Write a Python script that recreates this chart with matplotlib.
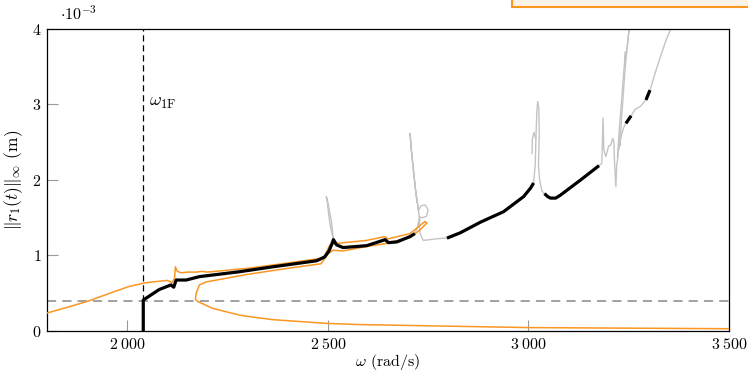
import matplotlib
matplotlib.use("Agg")
import matplotlib.pyplot as plt
from matplotlib.patches import Rectangle

plt.rcParams['font.family'] = 'serif'
plt.rcParams['font.serif'] = ['cmr10', 'DejaVu Serif']
plt.rcParams['mathtext.fontset'] = 'cm'
plt.rcParams['axes.formatter.use_mathtext'] = True

# amplitudes in 1e-3 m, omega in rad/s
# stable branch (thick black), split into pieces
black_w = [
    [2040, 2040, 2060, 2080, 2109, 2116, 2122, 2147, 2180, 2280, 2363, 2472, 2492, 2503, 2510,
     2514, 2522, 2538, 2597, 2643, 2651, 2672, 2705, 2717],
    [2797, 2830, 2880, 2938, 2988, 3005, 3013],
    [3040, 3048, 3055, 3068, 3080, 3130, 3176],
    [3243, 3256],
    [3293, 3303],
]
black_a = [
    [0.0, 0.41, 0.48, 0.55, 0.61, 0.58, 0.675, 0.675, 0.72, 0.785, 0.85, 0.93, 0.98, 1.06, 1.15,
     1.21, 1.14, 1.105, 1.13, 1.21, 1.17, 1.18, 1.25, 1.29],
    [1.23, 1.30, 1.44, 1.58, 1.78, 1.89, 1.96],
    [1.82, 1.78, 1.76, 1.76, 1.80, 2.00, 2.19],
    [2.75, 2.85],
    [3.06, 3.19],
]

# unstable branch (thin grey)
grey_w = [
    [2514, 2509, 2503, 2498, 2496, 2499, 2502, 2506, 2510, 2514],
    [2717, 2724, 2728, 2726, 2718, 2710, 2705, 2708, 2714, 2720, 2726, 2733, 2743, 2750, 2746,
     2736, 2730, 2728, 2730, 2738, 2788, 2797],
    [3013, 3017, 3019, 3021, 3023, 3026, 3027, 3026, 3025, 3028, 3034, 3040],
    [3009, 3010, 3014, 3018],
    [3176, 3183, 3186, 3188, 3193, 3200, 3205, 3210, 3213, 3215, 3218, 3220, 3222, 3226, 3230,
     3228, 3232, 3236, 3240, 3243, 3247, 3252],
    [3222, 3227, 3233, 3238, 3242, 3241, 3246, 3250, 3256],
    [3225, 3232, 3238, 3243],
    [3256, 3265, 3280, 3293],
    [3303, 3315, 3330, 3345, 3355, 3365],
]
grey_a = [
    [1.21, 1.45, 1.62, 1.76, 1.78, 1.70, 1.55, 1.40, 1.30, 1.21],
    [1.29, 1.38, 1.50, 1.60, 1.90, 2.30, 2.62, 2.40, 2.10, 1.80, 1.60, 1.66, 1.67, 1.60, 1.52,
     1.50, 1.51, 1.40, 1.29, 1.20, 1.23, 1.23],
    [1.96, 2.20, 2.60, 2.90, 3.04, 2.95, 2.60, 2.40, 2.20, 2.00, 1.85, 1.82],
    [2.35, 2.55, 2.63, 2.55],
    [2.19, 2.22, 2.82, 2.40, 2.31, 2.45, 2.46, 2.55, 2.51, 2.20, 1.91, 2.20, 2.26, 2.50, 2.62,
     2.45, 2.80, 3.10, 3.40, 3.59, 3.80, 4.05],
    [2.30, 2.70, 3.10, 3.45, 3.70, 3.55, 3.75, 3.95, 4.05],
    [2.40, 2.60, 2.70, 2.75],
    [2.85, 2.93, 2.98, 3.06],
    [3.19, 3.40, 3.65, 3.88, 4.00, 4.15],
]

# comparison curve (orange), one continuous path
orange_w = [1800, 1855, 1905, 1962, 2005, 2047, 2100, 2112, 2118, 2120, 2125, 2135, 2150, 2172,
            2187, 2200, 2300, 2400, 2480, 2490, 2497, 2505, 2522, 2597, 2642, 2650, 2705, 2742,
            2747, 2730, 2713, 2680, 2647, 2597, 2538, 2513, 2500, 2483, 2400, 2300, 2197, 2180,
            2172, 2170, 2176, 2213, 2280, 2305, 2363, 2500, 2580, 3000, 3500]
orange_a = [0.238, 0.32, 0.40, 0.51, 0.59, 0.64, 0.67, 0.64, 0.70, 0.85, 0.79, 0.77, 0.78, 0.78,
            0.79, 0.78, 0.83, 0.90, 0.96, 0.98, 1.05, 1.14, 1.16, 1.20, 1.25, 1.22, 1.29, 1.45,
            1.43, 1.34, 1.27, 1.205, 1.16, 1.12, 1.06, 1.07, 1.02, 0.89, 0.83, 0.75, 0.65, 0.61,
            0.50, 0.42, 0.39, 0.30, 0.21, 0.19, 0.15, 0.10, 0.085, 0.045, 0.03]

w_1F = 2040
threshold = 0.4
x_ticks = [2000, 2500, 3000, 3500]
x_tick_labels = [r'$2\:000$', r'$2\:500$', r'$3\:000$', r'$3\:500$']
y_ticks = [0, 1, 2, 3, 4]

fig = plt.figure(figsize=(7.48, 3.74), dpi=100)
ax = fig.add_axes([0.0628, 0.115, 0.9118, 0.8075])

ax.axhline(threshold, color='#888888', lw=1.1, dashes=(6, 4), zorder=1)
ax.axvline(w_1F, color='black', lw=0.9, dashes=(5, 3), zorder=1)

for w, a in zip(grey_w, grey_a):
    ax.plot(w, a, color='#c4c4c4', lw=1.0, zorder=2)
ax.plot(orange_w, orange_a, color='#fa9621', lw=1.1, zorder=3)
for w, a in zip(black_w, black_a):
    ax.plot(w, a, color='black', lw=2.3, zorder=4, solid_capstyle='butt')

ax.text(2055, 3.02, r'$\omega_{\mathrm{1F}}$', fontsize=13, ha='left', va='center')

ax.set_xlim(1800, 3500)
ax.set_ylim(0, 4)
ax.set_xticks(x_ticks)
ax.set_xticklabels(x_tick_labels)
ax.set_yticks(y_ticks)
ax.set_yticklabels(['$%d$' % t for t in y_ticks])
ax.tick_params(direction='in', length=8, width=0.8, color='#999999', labelsize=11.5,
               top=False, right=False, pad=4)
for s in ax.spines.values():
    s.set_linewidth(0.9)

ax.set_xlabel(r'$\omega$ (rad/s)', fontsize=11.5, labelpad=0)
ax.set_ylabel(r'$\|r_1(t)\|_\infty$ (m)', fontsize=12.5, labelpad=5)
ax.text(0.019, 1.02, r'$\cdot 10^{-3}$', transform=ax.transAxes, fontsize=11.5,
        ha='left', va='bottom')

# legend box cut off at the top of the figure
fig.patches.append(Rectangle((512 / 748, 1 - 7 / 374), 0.4, 0.1, transform=fig.transFigure,
                             facecolor='#fdf2e6', edgecolor='#fa9621', lw=1.5))

fig.savefig('out.png', dpi=100)
